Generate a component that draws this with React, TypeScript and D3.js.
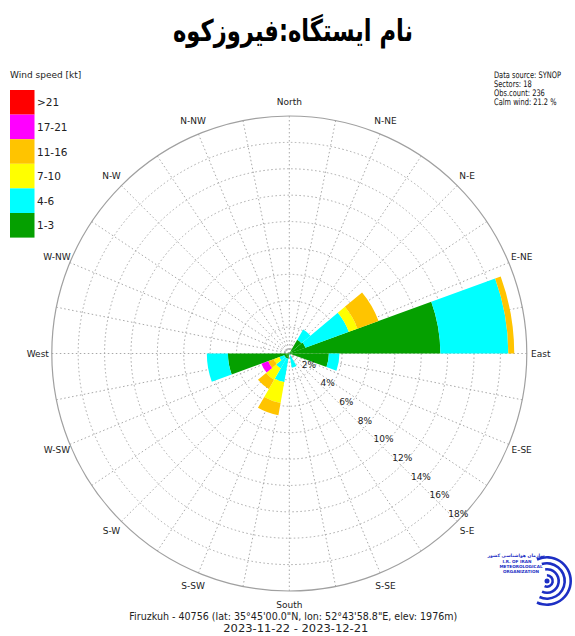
import React from 'react';
import * as d3 from 'd3';

const W = 575;
const H = 636;

// 18 direction sectors (centre angle, degrees from north, clockwise)
const sectorAngles = d3.range(0, 360, 20);

const speedClasses = ['1-3', '4-6', '7-10', '11-16', '17-21', '>21'];
const classColors = ['#05a000', '#00ffff', '#ffff00', '#ffc400', '#ff00ff', '#ff0000'];

// Percentage of observations per sector, one array per speed class
const pct1to3 = [0, 0, 1.2, 1.3, 11.45, 3.0, 0, 0, 0, 0, 0.4, 0.4, 0.4, 4.65, 0, 0, 0, 0];
const pct4to6 = [0, 0, 0.9, 3.5, 5.15, 0.8, 0, 0, 1.1, 0, 1.8, 0.9, 0.4, 1.6, 0, 0, 0, 0];
const pct7to10 = [0, 0, 0, 0.7, 0, 0, 0, 0, 0, 0, 1.6, 1.0, 0.45, 0, 0, 0, 0, 0];
const pct11to16 = [0, 0, 0, 1.7, 0.45, 0, 0, 0, 0, 0, 0.95, 0.8, 0.45, 0, 0, 0, 0, 0];
const pct17to21 = [0, 0, 0, 0, 0, 0, 0, 0, 0, 0, 0, 0, 0.55, 0, 0, 0, 0, 0];
const pctOver21 = [0, 0, 0, 0, 0, 0, 0, 0, 0, 0, 0, 0, 0, 0, 0, 0, 0, 0];

const directionLabels = [
  'North', 'N-NE', 'N-E', 'E-NE', 'East', 'E-SE', 'S-E', 'S-SE',
  'South', 'S-SW', 'S-W', 'W-SW', 'West', 'W-NW', 'N-W', 'N-NW',
];
const ringTicks = [2, 4, 6, 8, 10, 12, 14, 16, 18];
const infoLines = ['Data source: SYNOP', 'Sectors: 18', 'Obs.count: 236', 'Calm wind: 21.2 %'];

const titleText = 'نام ایستگاه:فیروزکوه';
const stationLine = 'Firuzkuh - 40756 (lat: 35°45\'00.0"N, lon: 52°43\'58.8"E, elev: 1976m)';
const periodLine = '2023-11-22 - 2023-12-21';

const FONT = '"DejaVu Sans", sans-serif';

const cx = 289.3;
const cy = 353.5;
const rMax = 237.5;
const maxPct = 18;

export default function App() {
  const r = d3.scaleLinear().domain([0, maxPct]).range([0, rMax]);
  const toRad = (deg: number) => (deg * Math.PI) / 180;
  const polar = (deg: number, rad: number): [number, number] => [
    cx + rad * Math.sin(toRad(deg)),
    cy - rad * Math.cos(toRad(deg)),
  ];

  const series = [pct1to3, pct4to6, pct7to10, pct11to16, pct17to21, pctOver21];
  const rows = sectorAngles.map((a, i) => {
    const row: Record<string, number> = { angle: a };
    speedClasses.forEach((c, k) => (row[c] = series[k][i]));
    return row;
  });
  const stacked = d3.stack<Record<string, number>>().keys(speedClasses)(rows);

  const arc = d3.arc<any>();
  const halfWidth = 10;

  const gridAngles = d3.range(0, 360, 11.25);
  const innerRings = ringTicks.filter((t) => t < maxPct);

  // legend geometry
  const legendX = 10;
  const legendTop = 90;
  const boxW = 24.5;
  const boxH = 24.6;
  const legendOrder = [...speedClasses].reverse();

  return (
    <svg
      width={W}
      height={H}
      viewBox={`0 0 ${W} ${H}`}
      style={{ position: 'absolute', left: 0, top: 0, background: '#fff' }}
    >
      <rect x={0} y={0} width={W} height={H} fill="#fff" />

      {/* title */}
      <text
        x={293}
        y={41}
        textAnchor="middle"
        fontFamily={FONT}
        fontWeight="bold"
        fontSize={30}
        direction="rtl"
        fill="#000"
        textLength={240}
        lengthAdjust="spacingAndGlyphs"
      >
        {titleText}
      </text>

      {/* grid */}
      <g fill="none" stroke="#a8a8a8" strokeWidth={1}>
        {gridAngles.map((a) => {
          const [x2, y2] = polar(a, rMax);
          return <line key={a} x1={cx} y1={cy} x2={x2} y2={y2} strokeDasharray="1.5 2.5" />;
        })}
        {innerRings.map((t) => (
          <circle key={t} cx={cx} cy={cy} r={r(t)} strokeDasharray="1.5 2.5" />
        ))}
        <circle cx={cx} cy={cy} r={4} strokeDasharray="1.5 1.5" />
        <circle cx={cx} cy={cy} r={rMax} stroke="#a0a0a0" strokeWidth={1.2} />
      </g>

      {/* wind rose wedges */}
      <g transform={`translate(${cx},${cy})`}>
        {stacked.map((layer, k) =>
          layer.map((d, i) => {
            if (d[1] - d[0] <= 0) return null;
            const a = sectorAngles[i];
            const path = arc({
              innerRadius: r(d[0]),
              outerRadius: r(d[1]),
              startAngle: toRad(a - halfWidth),
              endAngle: toRad(a + halfWidth),
            });
            return <path key={`${k}-${i}`} d={path || ''} fill={classColors[k]} />;
          })
        )}
      </g>

      {/* percentage labels along the SE radius */}
      <g fontFamily={FONT} fontSize={9} fill="#222" textAnchor="middle">
        {ringTicks.map((t) => {
          const [x, y] = polar(135, r(t));
          return (
            <text key={t} x={x + 1} y={y - 7.5} dominantBaseline="central">
              {`${t}%`}
            </text>
          );
        })}
      </g>

      {/* direction labels */}
      <g fontFamily={FONT} fontSize={9} fill="#222" textAnchor="middle">
        {directionLabels.map((lab, i) => {
          const [x, y] = polar(i * 22.5, 251.5);
          return (
            <text key={lab} x={x} y={y} dominantBaseline="central">
              {lab}
            </text>
          );
        })}
      </g>

      {/* legend */}
      <text x={10} y={75} fontFamily={FONT} fontSize={9} fill="#222" dominantBaseline="central">
        Wind speed [kt]
      </text>
      {legendOrder.map((c, j) => {
        const k = speedClasses.indexOf(c);
        const y = legendTop + j * boxH;
        return (
          <g key={c}>
            <rect x={legendX} y={y} width={boxW} height={boxH} fill={classColors[k]} />
            <text
              x={legendX + boxW + 2.5}
              y={y + boxH / 2}
              fontFamily={FONT}
              fontSize={10.5}
              fill="#222"
              dominantBaseline="central"
            >
              {c}
            </text>
          </g>
        );
      })}

      {/* data info, set in a narrowed face */}
      <g transform="translate(494,0) scale(0.74,1)" fontFamily={FONT} fontSize={9} fill="#111">
        {infoLines.map((line, i) => (
          <text key={line} x={0} y={75 + i * 9.2} dominantBaseline="central">
            {line}
          </text>
        ))}
      </g>

      {/* footer */}
      <g fontFamily={FONT} fontSize={11} fill="#222" textAnchor="middle">
        <text x={293.3} y={616} dominantBaseline="central" textLength={328} lengthAdjust="spacingAndGlyphs">
          {stationLine}
        </text>
        <text x={295.8} y={628.5} dominantBaseline="central" textLength={145} lengthAdjust="spacingAndGlyphs">
          {periodLine}
        </text>
      </g>

      {/* organisation logo */}
      <g>
        {[25, 19, 13, 7].map((rr, i) => {
          const p = d3.arc()({
            innerRadius: rr - 2.6,
            outerRadius: rr,
            startAngle: toRad(-25 + i * 8),
            endAngle: toRad(205),
          } as any);
          return <path key={rr} d={p || ''} transform="translate(547,581)" fill="#1d2fc4" />;
        })}
        <circle cx={547} cy={581} r={2.5} fill="#1d2fc4" />
        <g fontFamily={FONT} fontWeight="bold" fill="#1d2fc4" textAnchor="middle">
          <text x={516} y={557} fontSize={4.5} direction="rtl">سازمان هواشناسی کشور</text>
          <text x={517} y={562.5} fontSize={4.2}>I.R. OF IRAN</text>
          <text x={521} y={567.5} fontSize={4.2}>METEOROLOGICAL</text>
          <text x={521} y={573} fontSize={4.2}>ORGANIZATION</text>
        </g>
      </g>
    </svg>
  );
}
